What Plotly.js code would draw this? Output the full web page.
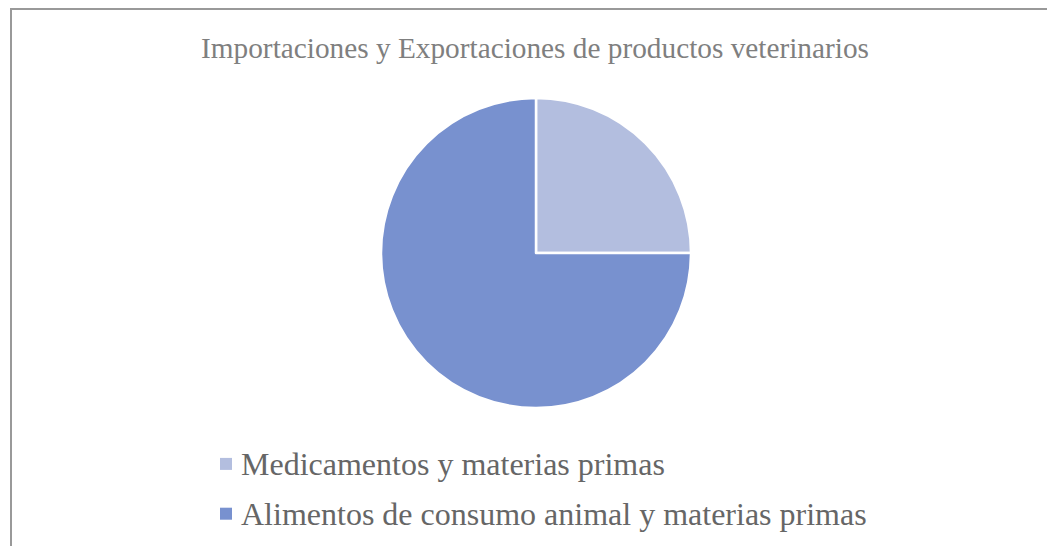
<!DOCTYPE html>
<html>
<head>
<meta charset="utf-8">
<script src="https://cdn.plot.ly/plotly-3.0.1.min.js"></script>
<style>
html,body{margin:0;padding:0;background:#fff;}
#frame{position:absolute;left:10px;top:8px;width:1100px;height:600px;border-left:2px solid #999;border-top:2px solid #999;}
#chart{position:absolute;left:0;top:0;width:1047px;height:546px;}
</style>
</head>
<body>
<div id="frame"></div>
<div id="chart"></div>
<script>
const chartTitle = 'Importaciones y Exportaciones de productos veterinarios';
const categories = ['Medicamentos y materias primas', 'Alimentos de consumo animal y materias primas'];
const values = [25, 75];
const colors = ['#B3BEDF', '#7891CF'];

const W = 1047, H = 546;
const legendLabels = categories.map(c => '<span style="font-size:32px">' + c + '</span>');
const trace = {
  type: 'pie',
  labels: legendLabels,
  values: values,
  sort: false,
  direction: 'clockwise',
  rotation: 0,
  textinfo: 'none',
  hoverinfo: 'label+value+percent',
  marker: {colors: colors, line: {color: '#ffffff', width: 2.5}},
  domain: {x: [381 / W, 691 / W], y: [1 - 408 / H, 1 - 98 / H]}
};
const layout = {
  width: W, height: H,
  margin: {l: 0, r: 0, t: 0, b: 0},
  paper_bgcolor: 'rgba(0,0,0,0)',
  plot_bgcolor: 'rgba(0,0,0,0)',
  title: {
    text: chartTitle,
    font: {family: 'Liberation Serif, Times New Roman, serif', size: 29.3, color: '#7f7f7f'},
    x: 535 / W, xanchor: 'center', y: 1 - 48 / H, yanchor: 'middle'
  },
  showlegend: true,
  legend: {
    orientation: 'v',
    x: 201 / W, xanchor: 'left',
    y: 1 - 431 / H, yanchor: 'top',
    font: {family: 'Liberation Serif, Times New Roman, serif', size: 36, color: '#666666'},
    bgcolor: 'rgba(0,0,0,0)'
  }
};
Plotly.newPlot('chart', [trace], layout, {displayModeBar: false, staticPlot: true}).then(gd => {
  gd.querySelectorAll('.legend .legendpie').forEach(p => {
    p.style.strokeWidth = '0px';
    p.setAttribute('transform', 'translate(25,3)');
  });
});
</script>
</body>
</html>
